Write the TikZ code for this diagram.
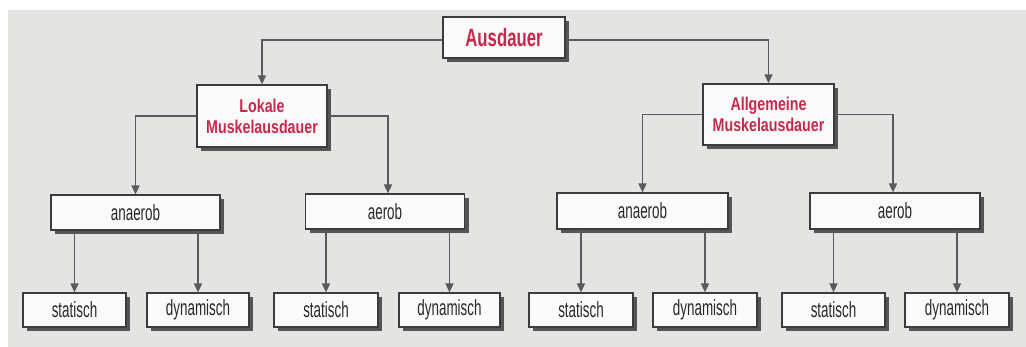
\documentclass[tikz,border=0pt]{standalone}
\usepackage{fontspec}
\newfontfamily\labfont{Liberation Sans}[FakeStretch=0.61]
\newfontfamily\ausfont{Liberation Sans}[FakeStretch=0.67]
\newfontfamily\titlefont{Liberation Sans}[FakeStretch=0.77]
\usetikzlibrary{arrows.meta,shadows}
\definecolor{bgpaper}{RGB}{228,228,226}
\definecolor{titlered}{RGB}{200,40,75}
\definecolor{edgegray}{RGB}{60,60,60}
\definecolor{linegray}{RGB}{90,90,90}
\definecolor{shadowgray}{RGB}{85,85,85}
\definecolor{boxfill}{RGB}{250,250,250}
\definecolor{txtdark}{RGB}{40,40,40}
\tikzset{
  basebox/.style={draw=edgegray, fill=boxfill, line width=1.2pt, inner sep=0pt,
    drop shadow={shadow xshift=4pt, shadow yshift=-4pt, fill=shadowgray, opacity=1}},
  topbox/.style={basebox, line width=1.4pt, align=center, text=titlered,
    font=\titlefont\bfseries\fontsize{18.5}{21}\selectfont},
  midbox/.style={basebox, text=txtdark, font=\labfont\fontsize{22}{24}\selectfont},
  leafbox/.style={basebox, text=txtdark, font=\labfont\fontsize{22}{24}\selectfont},
  arr/.style={draw=linegray, line width=1.6pt, -{Triangle[length=9pt,width=8pt]}},
}
\begin{document}
\begin{tikzpicture}[x=1pt,y=-1pt]
\useasboundingbox (0,0) rectangle (1026,347);
\fill[white] (0,0) rectangle (1026,347);
\fill[bgpaper] (8,10) rectangle (1026,347);

% top
\node[topbox, minimum width=122pt, minimum height=41pt,
  font=\ausfont\bfseries\fontsize{25}{27}\selectfont] (aus) at (504,37.5) {Ausdauer};
\node[topbox, minimum width=130pt, minimum height=62pt] (lok) at (262,116) {Lokale\\Muskelausdauer};
\node[topbox, minimum width=131pt, minimum height=61pt] (allg) at (768.5,114.5) {Allgemeine\\Muskelausdauer};

% middle
\node[midbox, minimum width=169pt, minimum height=35pt] (anL) at (135.5,212.5) {anaerob};
\node[midbox, minimum width=159pt, minimum height=35pt] (aeL) at (385,211.5) {aerob};
\node[midbox, minimum width=171pt, minimum height=36pt] (anR) at (642.5,211) {anaerob};
\node[midbox, minimum width=170pt, minimum height=36pt] (aeR) at (895,211) {aerob};

% leaves
\node[leafbox, minimum width=103pt, minimum height=34pt] (s1) at (74.5,310) {statisch};
\node[leafbox, minimum width=102pt, minimum height=34pt] (d1) at (198,310) {dynamisch};
\node[leafbox, minimum width=104pt, minimum height=34pt] (s2) at (326,310) {statisch};
\node[leafbox, minimum width=101pt, minimum height=34pt] (d2) at (449.5,310) {dynamisch};
\node[leafbox, minimum width=104pt, minimum height=34pt] (s3) at (581,310) {statisch};
\node[leafbox, minimum width=104pt, minimum height=34pt] (d3) at (705,310) {dynamisch};
\node[leafbox, minimum width=103pt, minimum height=34pt] (s4) at (833.5,310) {statisch};
\node[leafbox, minimum width=104pt, minimum height=34pt] (d4) at (957,310) {dynamisch};

% connectors from Ausdauer
\coordinate (ausL) at (aus.west |- 0,40);
\coordinate (ausR) at (aus.east |- 0,40);
\draw[arr] (ausL) -| (lok.north);
\draw[arr] (ausR) -| (allg.north);

% connectors to middle
\draw[arr] (lok.west) -| (anL.north);
\draw[arr] (lok.east) -| ([xshift=3pt]aeL.north);
\draw[arr] (allg.west) -| (anR.north);
\draw[arr] (allg.east) -| ([xshift=-2pt]aeR.north);

% connectors to leaves
\foreach \m/\l in {anL/s1, anL/d1, aeL/s2, aeL/d2, anR/s3, anR/d3, aeR/s4, aeR/d4}{
  \draw[arr] ([yshift=-0.6pt]\l.north |- \m.south) -- (\l.north);
}
\end{tikzpicture}
\end{document}
